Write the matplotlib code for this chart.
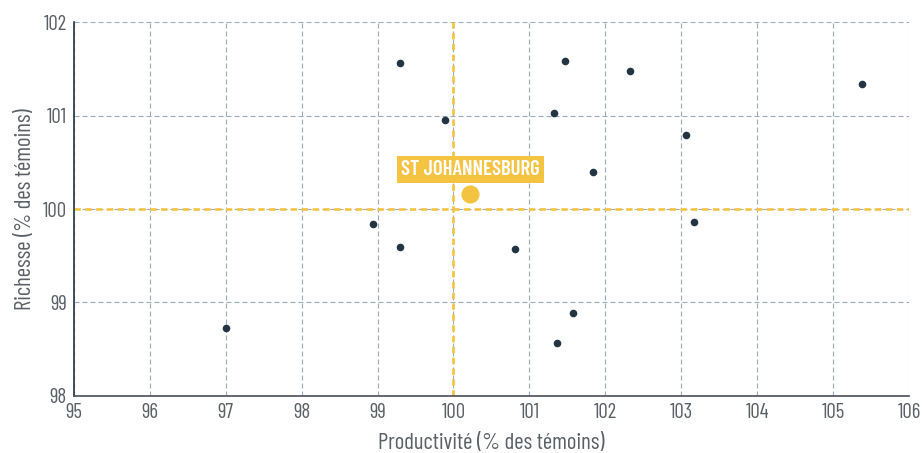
import matplotlib.pyplot as plt

# données (productivité, richesse) en % des témoins
productivite = [99.30, 101.47, 102.33, 105.38, 99.89, 101.32, 103.06, 101.84,
                98.94, 99.30, 100.81, 103.17, 97.00, 101.57, 101.36]
richesse = [101.56, 101.59, 101.48, 101.34, 100.95, 101.03, 100.79, 100.40,
            99.84, 99.59, 99.57, 99.86, 98.73, 98.89, 98.57]
site_x, site_y = 100.22, 100.16
site_nom = "ST JOHANNESBURG"
x_ticks = list(range(95, 107))
y_ticks = [98, 99, 100, 101, 102]

plt.rcParams['font.family'] = ['Barlow Condensed', 'Roboto Condensed', 'DejaVu Sans']

jaune = '#f5c342'
fonce = '#233442'
gris = '#5a6065'

fig = plt.figure(figsize=(9.22, 4.53), dpi=100)
ax = fig.add_axes([0.080, 0.126, 0.906, 0.825])

ax.set_xlim(95, 106)
ax.set_ylim(98, 102)
ax.set_xticks(x_ticks)
ax.set_yticks(y_ticks)
ax.grid(True, linestyle=(0, (4.5, 2.7)), color='#9dabb8', linewidth=0.8)
ax.set_axisbelow(True)

for s in ['top', 'right']:
    ax.spines[s].set_visible(False)
ax.spines['left'].set_color(fonce)
ax.spines['bottom'].set_color('#4a4f55')
ax.spines['left'].set_linewidth(1.2)
ax.spines['bottom'].set_linewidth(1.2)
ax.tick_params(length=0, labelsize=15, colors=gris, pad=5)

# lignes de référence à 100
ax.axvline(100, color=jaune, linestyle=(0, (2.4, 1.7)), linewidth=1.9, zorder=2)
ax.axhline(100, color=jaune, linestyle=(0, (2.4, 1.7)), linewidth=1.9, zorder=2)

ax.scatter(productivite, richesse, s=30, color=fonce, zorder=3, linewidths=0)
ax.scatter([site_x], [site_y], s=170, color=jaune, zorder=3, linewidths=0)
ax.text(site_x, site_y + 0.26, site_nom, ha='center', va='center',
        color='white', fontsize=15, fontweight='semibold', zorder=4,
        bbox=dict(boxstyle='square,pad=0.2', fc=jaune, ec='none'))

ax.set_xlabel("Productivité (% des témoins)", fontsize=16.5, color=gris, labelpad=8)
ax.set_ylabel("Richesse (% des témoins)", fontsize=16.5, color=gris, labelpad=5)

fig.savefig('out.png', dpi=100)
